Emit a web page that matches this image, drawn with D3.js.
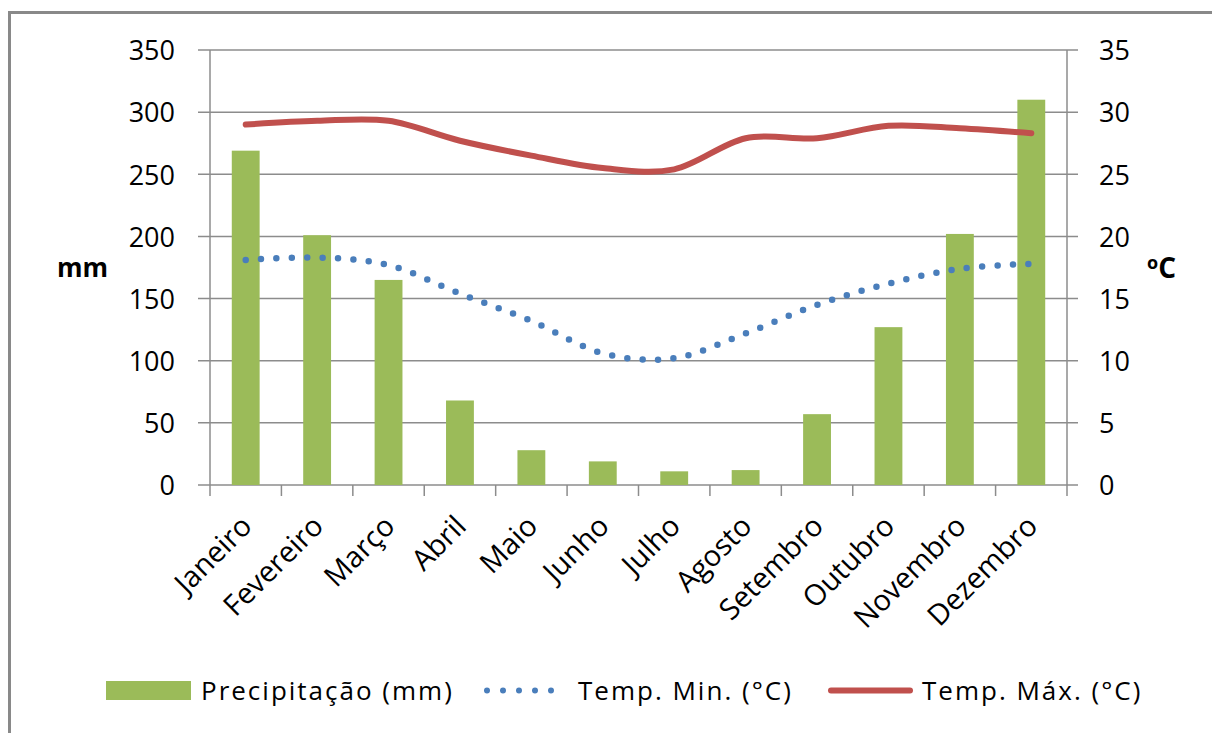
<!DOCTYPE html>
<html>
<head>
<meta charset="utf-8">
<script src="https://cdn.jsdelivr.net/npm/d3@7"></script>
<style>
  html, body { margin: 0; padding: 0; background: #fff; }
  svg { display: block; }
  text { font-family: "Open Sans", Lato, sans-serif; fill: #000; }
</style>
</head>
<body>
<svg id="chart" width="1212" height="733"></svg>
<script>
const months = ["Janeiro","Fevereiro","Março","Abril","Maio","Junho","Julho","Agosto","Setembro","Outubro","Novembro","Dezembro"];
const precipitation = [269, 201, 165, 68, 28, 19, 11, 12, 57, 127, 202, 310];
const tempMin = [18.1, 18.3, 17.7, 15.4, 13.2, 10.6, 10.2, 12.2, 14.5, 16.2, 17.4, 17.8];
const tempMax = [29.0, 29.3, 29.3, 27.7, 26.5, 25.5, 25.4, 27.9, 27.9, 28.9, 28.7, 28.3];
const leftTicks = [0, 50, 100, 150, 200, 250, 300, 350];
const rightTicks = [0, 5, 10, 15, 20, 25, 30, 35];
const seriesNames = ["Precipitação (mm)", "Temp. Min. (°C)", "Temp. Máx. (°C)"];

const svg = d3.select("#chart");
const colors = { bar: "#9BBB59", min: "#4A7EBB", max: "#C0504D", grid: "#8C8C8C" };
const L = 210, R = 1067, T = 50, B = 485;

// frame
svg.append("rect").attr("x", 9.5).attr("y", 12.5).attr("width", 1220).attr("height", 740)
  .attr("fill", "none").attr("stroke", "#898989").attr("stroke-width", 3);

const x = d3.scaleBand().domain(months).range([L, R]).paddingInner(0.61).paddingOuter(0.305);
const yL = d3.scaleLinear().domain([0, 350]).range([B, T]);
const yR = d3.scaleLinear().domain([0, 35]).range([B, T]);
const cx = m => x(m) + x.bandwidth() / 2;

// gridlines
svg.append("g").selectAll("line").data(leftTicks).join("line")
  .attr("x1", L - 12).attr("x2", R + 11)
  .attr("y1", d => yL(d)).attr("y2", d => yL(d))
  .attr("stroke", colors.grid).attr("stroke-width", 1.5);

// left axis
const gl = svg.append("g").attr("transform", `translate(${L},0)`)
  .call(d3.axisLeft(yL).tickValues(leftTicks).tickSize(12).tickPadding(23));
gl.select(".domain").attr("stroke", colors.grid).attr("stroke-width", 1.5).attr("d", `M0,${T}V${B}`);
gl.selectAll(".tick line").attr("stroke", "none");
gl.selectAll(".tick text").attr("font-size", 27).attr("font-family", "Open Sans").attr("fill", "#000").attr("dy", "0.36em");

// right axis
const gr = svg.append("g").attr("transform", `translate(${R},0)`)
  .call(d3.axisRight(yR).tickValues(rightTicks).tickSize(11).tickPadding(21));
gr.select(".domain").attr("stroke", colors.grid).attr("stroke-width", 1.5).attr("d", `M0,${T}V${B}`);
gr.selectAll(".tick line").attr("stroke", "none");
gr.selectAll(".tick text").attr("font-size", 27).attr("font-family", "Open Sans").attr("fill", "#000").attr("dy", "0.36em");

// category ticks
const step = x.step();
svg.append("g").selectAll("line").data(d3.range(months.length + 1)).join("line")
  .attr("x1", i => L + i * step).attr("x2", i => L + i * step)
  .attr("y1", B).attr("y2", B + 11)
  .attr("stroke", colors.grid).attr("stroke-width", 1.5);

// month labels
svg.append("g").selectAll("text").data(months).join("text")
  .attr("transform", d => `translate(${cx(d) + 8},${B + 43}) rotate(-45)`)
  .attr("text-anchor", "end")
  .attr("font-size", 29)
  .text(d => d);

// bars
svg.append("g").selectAll("rect").data(months).join("rect")
  .attr("x", d => x(d)).attr("width", x.bandwidth())
  .attr("y", (d, i) => yL(precipitation[i]))
  .attr("height", (d, i) => B - yL(precipitation[i]))
  .attr("fill", colors.bar);

// lines
const lineR = d3.line().x((d, i) => cx(months[i])).y(d => yR(d)).curve(d3.curveCardinal.tension(0));
svg.append("path").datum(tempMin).attr("d", lineR)
  .attr("fill", "none").attr("stroke", colors.min).attr("stroke-width", 6.5)
  .attr("stroke-linecap", "round").attr("stroke-dasharray", "0 15.4");
svg.append("path").datum(tempMax).attr("d", lineR)
  .attr("fill", "none").attr("stroke", colors.max).attr("stroke-width", 6)
  .attr("stroke-linecap", "round");

// axis titles
svg.append("text").attr("x", 57).attr("y", 277).attr("font-size", 26).attr("font-weight", "bold").text("mm");
const tc = svg.append("text").attr("x", 1147).attr("y", 278).attr("font-size", 28).attr("font-weight", "bold");
tc.append("tspan").attr("font-size", 18).attr("dy", -9).text("o");
tc.append("tspan").attr("dy", 9).text("C");

// legend
const lg = svg.append("g").attr("font-size", 26).attr("letter-spacing", 2);
lg.append("rect").attr("x", 106).attr("y", 681).attr("width", 85).attr("height", 19).attr("fill", colors.bar);
lg.append("text").attr("x", 201).attr("y", 700).text(seriesNames[0]);
lg.append("line").attr("x1", 487).attr("x2", 567).attr("y1", 690.5).attr("y2", 690.5)
  .attr("stroke", colors.min).attr("stroke-width", 6).attr("stroke-linecap", "round").attr("stroke-dasharray", "0 16");
lg.append("text").attr("x", 578).attr("y", 700).text(seriesNames[1]);
lg.append("line").attr("x1", 831).attr("x2", 910).attr("y1", 690.5).attr("y2", 690.5)
  .attr("stroke", colors.max).attr("stroke-width", 6).attr("stroke-linecap", "round");
lg.append("text").attr("x", 922).attr("y", 700).text(seriesNames[2]);
</script>
</body>
</html>
